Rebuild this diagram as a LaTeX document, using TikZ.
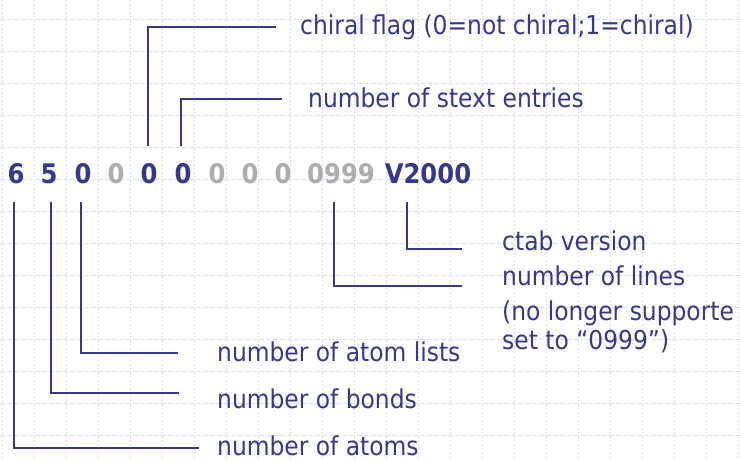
\documentclass[tikz,border=0pt]{standalone}
\usepackage{fontspec}
\setmainfont{DejaVu Sans Condensed}
\definecolor{navy}{HTML}{37378B}
\definecolor{lgray}{HTML}{ADADAD}
\definecolor{gridc}{HTML}{D6DFF6}
\tikzset{
  lab/.style={anchor=base west, inner sep=0pt, text=navy, font=\fontsize{26}{30}\selectfont},
  dig/.style={anchor=base, inner sep=0pt, font=\fontsize{27}{30}\selectfont\bfseries},
  on/.style={text=navy},
  off/.style={text=lgray},
  conn/.style={draw=navy, line width=1.1pt},
  gridh/.style={draw=gridc, line width=0.8pt, dash pattern=on 5pt off 2pt},
  gridv/.style={draw=gridc, line width=0.8pt, dash pattern=on 2pt off 2pt}
}
\begin{document}
\begin{tikzpicture}[x=1pt,y=-1pt]
\useasboundingbox (0,0) rectangle (740,460);
\clip (0,0) rectangle (740,460);
\fill[white] (0,0) rectangle (740,460);
% background grid
\foreach \gx in {2,34,...,740} \draw[gridv] (\gx,0) -- (\gx,460);
\foreach \gy in {19,51,...,460} \draw[gridh] (0,\gy) -- (740,\gy);
% digits row
\node[dig,on]  (d1)  at (16,183)  {6};
\node[dig,on]  (d2)  at (49,183)  {5};
\node[dig,on]  (d3)  at (83,183)  {0};
\node[dig,off] (d4)  at (116,183) {0};
\node[dig,on]  (d5)  at (149,183) {0};
\node[dig,on]  (d6)  at (183,183) {0};
\node[dig,off] (d7)  at (217,183) {0};
\node[dig,off] (d8)  at (250,183) {0};
\node[dig,off] (d9)  at (283,183) {0};
\node[dig,off] (d10) at (341,183) {0999};
\node[dig,on]  (d11) at (428,183) {V2000};
% labels
\node[lab] (lchiral) at (300,35)  {chiral flag (0=not chiral;1=chiral)};
\node[lab] (lstext)  at (308,107) {number of stext entries};
\node[lab] (lctab)   at (502,250) {ctab version};
\node[lab] (llines)  at (502,285) {number of lines};
\node[lab] (lnolong) at (502,320) {(no longer supporte};
\node[lab] (lset)    at (502,349) {set to “0999”)};
\node[lab] (llists)  at (217,361) {number of atom lists};
\node[lab] (lbonds)  at (217,408) {number of bonds};
\node[lab] (latoms)  at (217,455) {number of atoms};
% connector ends
\coordinate (echiral) at (276,27);
\coordinate (estext)  at (282,99);
\coordinate (ectab)   at (462,249);
\coordinate (elines)  at (462,286);
\coordinate (elists)  at (178,353);
\coordinate (ebonds)  at (179,393);
\coordinate (eatoms)  at (199,448);
% connectors
\draw[conn] ([xshift=-1pt,yshift=17pt]d5.north) |- (echiral);
\draw[conn] ([xshift=-2pt,yshift=17pt]d6.north) |- (estext);
\draw[conn] ([xshift=-21pt,yshift=-18pt]d11.south) |- (ectab);
\draw[conn] ([xshift=-7pt,yshift=-18pt]d10.south) |- (elines);
\draw[conn] ([xshift=-2pt,yshift=-18pt]d3.south) |- (elists);
\draw[conn] ([xshift=2pt,yshift=-18pt]d2.south) |- (ebonds);
\draw[conn] ([xshift=-2pt,yshift=-18pt]d1.south) |- (eatoms);
\end{tikzpicture}
\end{document}
